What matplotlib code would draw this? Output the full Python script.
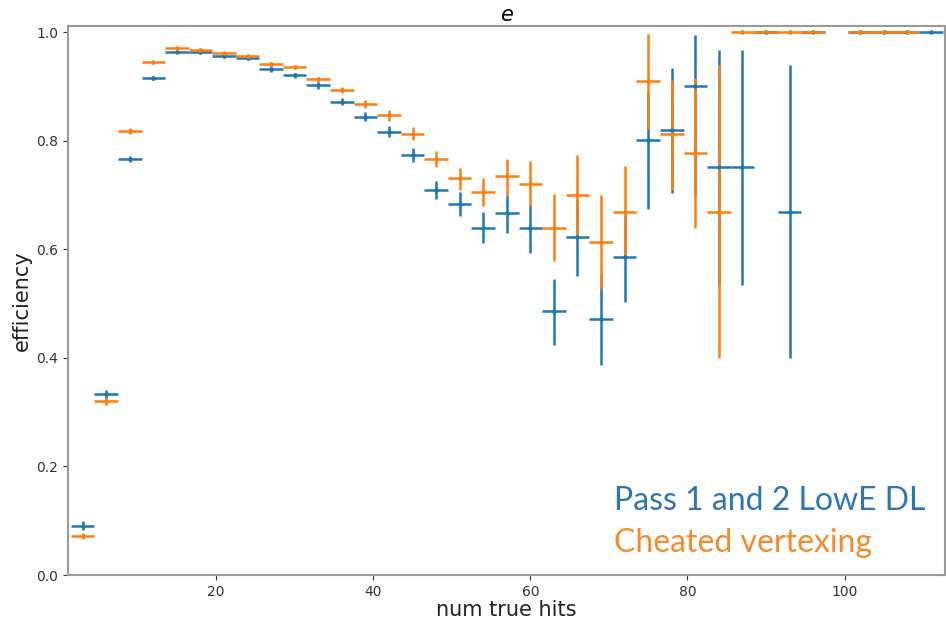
import numpy as np
import matplotlib
matplotlib.use("Agg")
import matplotlib.pyplot as plt

nan = np.nan
# bin centres (num true hits), bin half-width 1.5
x_centers = [0, 3, 6, 9, 12, 15, 18, 21, 24, 27, 30, 33, 36, 39, 42, 45, 48, 51, 54, 57,
             60, 63, 66, 69, 72, 75, 78, 81, 84, 87, 90, 93, 96, 99, 102, 105, 108, 111]
bin_halfwidth = 1.5

# Pass 1 and 2 LowE DL
blue_eff = [nan, 0.091, 0.333, 0.766, 0.915, 0.964, 0.963, 0.956, 0.953, 0.932, 0.920, 0.902, 0.872,
            0.844, 0.816, 0.773, 0.710, 0.684, 0.640, 0.666, 0.640, 0.486, 0.622, 0.471, 0.585,
            0.801, 0.820, 0.900, 0.751, 0.751, 1.0, 0.668, 1.0, nan, 1.0, 1.0, 1.0, 1.0]
blue_lo = [nan, 0.083, 0.325, 0.760, 0.911, 0.961, 0.960, 0.953, 0.949, 0.927, 0.915, 0.896, 0.865,
           0.836, 0.806, 0.761, 0.692, 0.661, 0.611, 0.630, 0.594, 0.424, 0.551, 0.387, 0.502,
           0.675, 0.703, 0.700, 0.535, 0.535, 1.0, 0.399, 1.0, nan, 1.0, 1.0, 1.0, 1.0]
blue_hi = [nan, 0.099, 0.341, 0.772, 0.919, 0.967, 0.966, 0.959, 0.957, 0.937, 0.925, 0.908, 0.879,
           0.852, 0.827, 0.786, 0.726, 0.705, 0.669, 0.700, 0.684, 0.546, 0.690, 0.555, 0.662,
           0.890, 0.933, 0.994, 0.967, 0.967, 1.0, 0.939, 1.0, nan, 1.0, 1.0, 1.0, 1.0]

# Cheated vertexing
orange_eff = [0.0, 0.072, 0.320, 0.818, 0.944, 0.970, 0.967, 0.961, 0.955, 0.941, 0.936, 0.913, 0.893,
              0.867, 0.847, 0.813, 0.766, 0.732, 0.705, 0.735, 0.721, 0.640, 0.700, 0.614, 0.668,
              0.910, 0.812, 0.778, 0.668, 1.0, 1.0, 1.0, 1.0, nan, 1.0, 1.0, 1.0, nan]
orange_lo = [0.0, 0.066, 0.313, 0.812, 0.941, 0.967, 0.964, 0.958, 0.952, 0.937, 0.932, 0.908, 0.887,
             0.860, 0.837, 0.801, 0.751, 0.710, 0.680, 0.700, 0.680, 0.579, 0.627, 0.527, 0.585,
             0.821, 0.709, 0.640, 0.399, 1.0, 1.0, 1.0, 1.0, nan, 1.0, 1.0, 1.0, nan]
orange_hi = [0.0, 0.078, 0.327, 0.824, 0.947, 0.973, 0.970, 0.964, 0.958, 0.945, 0.940, 0.918, 0.899,
             0.874, 0.856, 0.826, 0.781, 0.750, 0.732, 0.766, 0.763, 0.701, 0.773, 0.700, 0.753,
             0.996, 0.912, 0.915, 0.939, 1.0, 1.0, 1.0, 1.0, nan, 1.0, 1.0, 1.0, nan]

title_text = "$e$"
xlabel_text = "num true hits"
ylabel_text = "efficiency"
legend_lines = ["Pass 1 and 2 LowE DL", "Cheated vertexing"]

BLUE = "#1f77b4"
ORANGE = "#ff7f0e"

fig = plt.figure(figsize=(9.46, 6.21), dpi=100)
ax = fig.add_axes([0.072, 0.074, 0.927, 0.884])

x = np.array(x_centers, dtype=float)

def draw(eff, lo, hi, color):
    eff = np.array(eff, dtype=float)
    lo = np.array(lo, dtype=float)
    hi = np.array(hi, dtype=float)
    m = ~np.isnan(eff)
    yerr = np.vstack([eff[m] - lo[m], hi[m] - eff[m]])
    ax.errorbar(x[m], eff[m], xerr=bin_halfwidth, yerr=yerr, fmt='.', color=color,
                markersize=4.5, elinewidth=1.8, capsize=0)

draw(blue_eff, blue_lo, blue_hi, BLUE)
draw(orange_eff, orange_lo, orange_hi, ORANGE)

ax.set_xlim(1.15, 112.8)
ax.set_ylim(0, 1.011)
ax.set_xticks([20, 40, 60, 80, 100])
ax.set_yticks([0.0, 0.2, 0.4, 0.6, 0.8, 1.0])
ax.tick_params(labelsize=10, colors='#333333', length=3.5)
for s in ax.spines.values():
    s.set_color('#999999')
    s.set_linewidth(1.5)

ax.set_title(title_text, fontsize=15, pad=4)
ax.set_xlabel(xlabel_text, fontsize=15, labelpad=1, color='#222222')
ax.set_ylabel(ylabel_text, fontsize=15, labelpad=3, color='#222222')

fig.text(614 / 946, 1 - 510 / 621, legend_lines[0], color='#2e75b6', fontsize=23,
         family='Lato', ha='left', va='baseline')
fig.text(614 / 946, 1 - 552 / 621, legend_lines[1], color='#f58a2e', fontsize=23,
         family='Lato', ha='left', va='baseline')

fig.savefig("out.png", dpi=100)
